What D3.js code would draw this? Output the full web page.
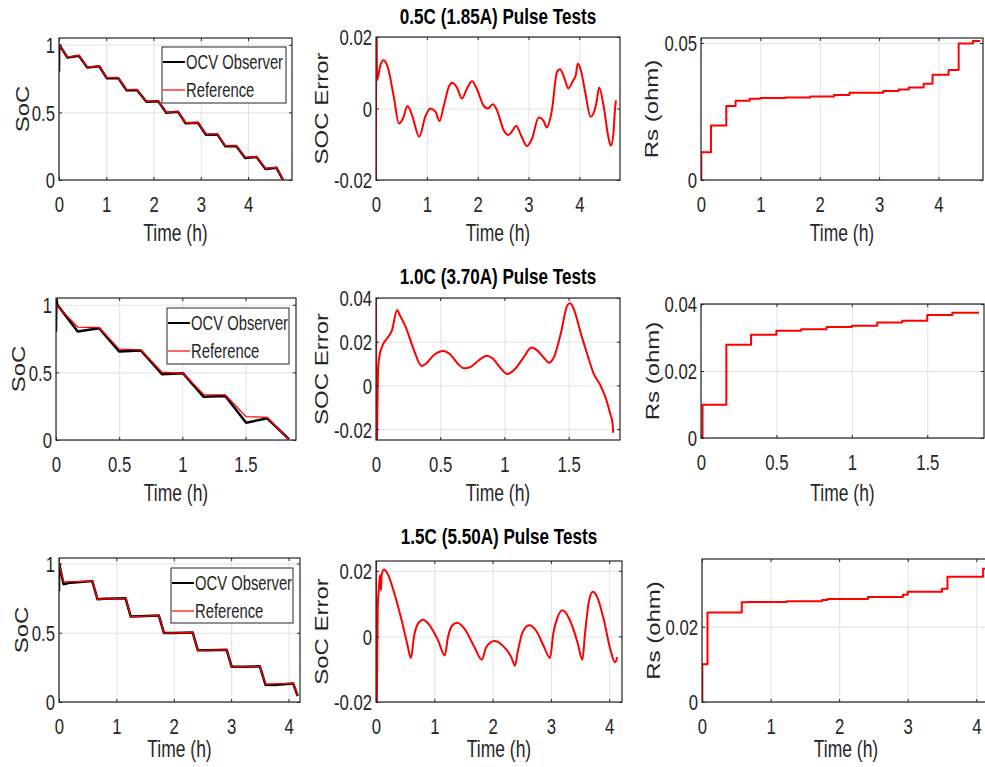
<!DOCTYPE html>
<html>
<head>
<meta charset="utf-8">
<script src="https://cdnjs.cloudflare.com/ajax/libs/d3/7.8.5/d3.min.js"></script>
<style>
body { margin: 0; background: #fff; }
svg text { font-family: "Liberation Sans", Arial, sans-serif; fill: #262626; }
</style>
</head>
<body>
<div id="chart"></div>
<script>
// ---- 0.5C (1.85A) ----
const t05Ref = [0, 0.18, 0.42, 0.60, 0.85, 1.01, 1.25, 1.43, 1.65, 1.85, 2.10, 2.27, 2.52, 2.68, 2.94, 3.11, 3.35, 3.52, 3.75, 3.94, 4.18, 4.37, 4.60, 4.74];
const soc05Ref = [1.0, 0.909, 0.921, 0.835, 0.843, 0.757, 0.757, 0.668, 0.668, 0.582, 0.585, 0.501, 0.506, 0.423, 0.425, 0.339, 0.339, 0.253, 0.253, 0.167, 0.172, 0.086, 0.093, 0.0];
const t05Obs = [0, 0.004, 0.18, 0.42, 0.60, 0.85, 1.01, 1.25, 1.43, 1.65, 1.85, 2.10, 2.27, 2.52, 2.68, 2.94, 3.11, 3.35, 3.52, 3.75, 3.94, 4.18, 4.37, 4.60, 4.74];
const soc05Obs = [0.80, 1.0, 0.905, 0.919, 0.831, 0.841, 0.753, 0.755, 0.664, 0.666, 0.578, 0.583, 0.497, 0.504, 0.419, 0.423, 0.335, 0.337, 0.249, 0.251, 0.163, 0.170, 0.082, 0.091, 0.0];
const t05Err = [0, 0.003, 0.02, 0.085, 0.15, 0.23, 0.35, 0.45, 0.53, 0.62, 0.71, 0.85, 0.97, 1.07, 1.17, 1.25, 1.33, 1.43, 1.50, 1.59, 1.69, 1.79, 1.89, 1.98, 2.12, 2.20, 2.30, 2.38, 2.51, 2.61, 2.67, 2.76, 2.85, 2.97, 3.07, 3.20, 3.29, 3.36, 3.46, 3.56, 3.62, 3.72, 3.78, 3.88, 3.93, 3.97, 4.03, 4.12, 4.22, 4.30, 4.34, 4.39, 4.48, 4.57, 4.62, 4.67, 4.70, 4.72];
const err05 = [-0.05, 0.05, 0.0079, 0.0121, 0.0135, 0.0116, 0.0033, -0.0042, -0.0028, 0.0007, -0.0019, -0.0079, -0.0023, 0.0, -0.0009, -0.0035, 0.0005, 0.006, 0.0072, 0.0059, 0.0028, 0.0056, 0.0076, 0.0056, 0.0007, 0.0, 0.0012, -0.0005, -0.006, -0.0074, -0.0065, -0.0049, -0.0074, -0.0105, -0.0084, -0.0025, -0.0033, -0.0053, -0.0005, 0.0102, 0.011, 0.0079, 0.0056, 0.0079, 0.0093, 0.0126, 0.0107, 0.0042, -0.0023, -0.0005, 0.0019, 0.0059, 0.0005, -0.0079, -0.0104, -0.007, -0.0005, 0.0023];
const t05Rs = [0, 0.005, 0.168, 0.426, 0.583, 0.82, 1.0, 1.42, 1.84, 2.24, 2.50, 3.07, 3.33, 3.50, 3.75, 3.90, 4.17, 4.34, 4.58, 4.70];
const rs05 = [0, 0.0101, 0.0199, 0.0270, 0.0289, 0.0296, 0.0299, 0.0301, 0.0305, 0.031, 0.0318, 0.0325, 0.033, 0.0337, 0.0351, 0.0384, 0.0401, 0.0498, 0.0507, 0.0507];

// ---- 1.0C (3.70A) ----
const t10Ref = [0, 0.172, 0.341, 0.5, 0.672, 0.839, 1.005, 1.169, 1.341, 1.505, 1.672, 1.844];
const soc10Ref = [1.0, 0.835, 0.832, 0.672, 0.667, 0.501, 0.494, 0.336, 0.333, 0.173, 0.168, 0.0];
const t10Obs = [0, 0.003, 0.01, 0.172, 0.341, 0.5, 0.672, 0.839, 1.005, 1.169, 1.341, 1.505, 1.672, 1.844];
const soc10Obs = [0.80, 1.05, 1.0, 0.802, 0.827, 0.654, 0.662, 0.486, 0.494, 0.319, 0.326, 0.128, 0.16, 0.007];
const t10Err = [0, 0.003, 0.016, 0.026, 0.047, 0.086, 0.125, 0.164, 0.185, 0.23, 0.295, 0.355, 0.386, 0.451, 0.524, 0.582, 0.647, 0.686, 0.738, 0.803, 0.863, 0.907, 0.972, 1.023, 1.075, 1.153, 1.21, 1.257, 1.31, 1.348, 1.387, 1.439, 1.491, 1.512, 1.543, 1.595, 1.647, 1.694, 1.746, 1.79, 1.823, 1.842, 1.847];
const err10 = [0.06, -0.04, 0.007, 0.0131, 0.0177, 0.0215, 0.0253, 0.0345, 0.0322, 0.0269, 0.0162, 0.0089, 0.0098, 0.0139, 0.0157, 0.0139, 0.0093, 0.0078, 0.0085, 0.0116, 0.0136, 0.0124, 0.0078, 0.0052, 0.007, 0.0131, 0.0173, 0.0159, 0.0124, 0.0104, 0.0131, 0.0238, 0.0368, 0.0376, 0.0345, 0.0238, 0.0139, 0.0055, 0.0002, -0.006, -0.0128, -0.0174, -0.0217];
const t10Rs = [0, 0.01, 0.168, 0.332, 0.5, 0.664, 0.832, 1.0, 1.168, 1.334, 1.5, 1.666, 1.843];
const rs10 = [0, 0.0099, 0.0278, 0.0308, 0.032, 0.0325, 0.0331, 0.0335, 0.0345, 0.035, 0.0367, 0.0374, 0.0374];

// ---- 1.5C (5.50A) ----
const t15Ref = [0, 0.08, 0.58, 0.67, 1.16, 1.25, 1.74, 1.83, 2.33, 2.42, 2.92, 3.01, 3.50, 3.60, 4.08, 4.16];
const soc15Ref = [1.0, 0.868, 0.873, 0.742, 0.749, 0.617, 0.624, 0.498, 0.502, 0.373, 0.378, 0.254, 0.258, 0.129, 0.134, 0.043];
const t15Obs = [0, 0.003, 0.08, 0.2, 0.58, 0.67, 0.8, 1.16, 1.25, 1.4, 1.74, 1.83, 2.0, 2.33, 2.42, 2.6, 2.92, 3.01, 3.2, 3.50, 3.60, 3.75, 4.08, 4.16];
const soc15Obs = [0.80, 1.0, 0.85, 0.862, 0.873, 0.742, 0.745, 0.749, 0.617, 0.62, 0.624, 0.498, 0.499, 0.502, 0.373, 0.374, 0.378, 0.254, 0.254, 0.258, 0.124, 0.122, 0.134, 0.043];
const t15Err = [0, 0.004, 0.03, 0.05, 0.07, 0.085, 0.097, 0.137, 0.21, 0.325, 0.44, 0.535, 0.6, 0.65, 0.72, 0.81, 0.92, 1.065, 1.18, 1.235, 1.31, 1.395, 1.52, 1.69, 1.815, 1.89, 2.03, 2.175, 2.32, 2.385, 2.43, 2.515, 2.63, 2.745, 2.885, 2.985, 3.04, 3.115, 3.2, 3.315, 3.455, 3.54, 3.585, 3.655, 3.72, 3.795, 3.91, 4.025, 4.1, 4.14];
const err15 = [0.05, -0.04, 0.009, 0.0146, 0.0187, 0.0141, 0.0187, 0.0204, 0.0187, 0.0125, 0.0049, -0.0022, -0.0066, -0.0002, 0.0039, 0.0051, 0.0034, -0.0012, -0.0058, -0.0002, 0.0034, 0.0042, 0.0023, -0.0033, -0.0071, -0.0033, -0.0014, -0.0028, -0.0063, -0.0089, -0.0048, 0.0013, 0.0034, 0.0018, -0.0033, -0.0066, 0.0008, 0.0059, 0.008, 0.0054, -0.0017, -0.0071, 0.0008, 0.011, 0.0136, 0.012, 0.0049, -0.0043, -0.0079, -0.0063];
const t15Rs = [0, 0.005, 0.08, 0.58, 0.67, 1.24, 1.75, 1.83, 2.42, 2.93, 3.0, 3.5, 3.58, 4.1, 4.2];
const rs15 = [0, 0.01, 0.0238, 0.0265, 0.0266, 0.0268, 0.0271, 0.0274, 0.0279, 0.0285, 0.0293, 0.0301, 0.0333, 0.0354, 0.0354];

// tick values / labels
const hourTicks = [0, 1, 2, 3, 4];
const halfHourTicks = [0, 0.5, 1, 1.5];
const socTicks = [0, 0.5, 1];
const legendLabels = ["OCV Observer", "Reference"];
const titles = ["0.5C (1.85A) Pulse Tests", "1.0C (3.70A) Pulse Tests", "1.5C (5.50A) Pulse Tests"];

const W = 985, H = 767;
const SX = 0.76; // the original figure was squeezed horizontally
const RED = "#ff0000";

const svg = d3.select("#chart").append("svg")
    .attr("width", W)
    .attr("height", H);

const stepC = d3.curveStepAfter, smoothC = d3.curveMonotoneX, linC = d3.curveLinear;

function socSeries(tO, vO, tR, vR) {
    return [
        {t: tO, v: vO, color: "#000", width: 2.5, curve: linC},
        {t: tR, v: vR, color: RED, width: 1.3, curve: linC}
    ];
}

const panels = [
  // row 1
  {box: [59, 38, 292, 180], xdom: [0, 4.93], ydom: [0, 1.05], xt: hourTicks, yt: socTicks,
   ylab: "SoC", ylx: 29, xlaby: 241, series: socSeries(t05Obs, soc05Obs, t05Ref, soc05Ref), legend: [162, 47, 124, 56]},
  {box: [376, 37, 620, 180], xdom: [0, 4.8], ydom: [-0.02, 0.02], xt: hourTicks, yt: [-0.02, 0, 0.02],
   ylab: "SOC Error", ylx: 328, xlaby: 241, series: [{t: t05Err, v: err05, color: RED, width: 2, curve: smoothC}], title: [titles[0], 24]},
  {box: [701, 38, 983, 180], xdom: [0, 4.75], ydom: [0, 0.0518], xt: hourTicks, yt: [0, 0.05],
   ylab: "Rs (ohm)", ylx: 658, xlaby: 241, series: [{t: t05Rs, v: rs05, color: RED, width: 2, curve: stepC}]},
  // row 2
  {box: [56, 298, 296, 440], xdom: [0, 1.9], ydom: [0, 1.05], xt: halfHourTicks, yt: socTicks,
   ylab: "SoC", ylx: 25, xlaby: 501, series: socSeries(t10Obs, soc10Obs, t10Ref, soc10Ref), legend: [167, 308, 122, 56]},
  {box: [376, 298, 620, 440], xdom: [0, 1.9], ydom: [-0.025, 0.04], xt: halfHourTicks, yt: [-0.02, 0, 0.02, 0.04],
   ylab: "SOC Error", ylx: 328, xlaby: 501, series: [{t: t10Err, v: err10, color: RED, width: 2, curve: smoothC}], title: [titles[1], 284]},
  {box: [701, 304, 984, 438], xdom: [0, 1.876], ydom: [0, 0.04], xt: halfHourTicks, yt: [0, 0.02, 0.04],
   ylab: "Rs (ohm)", ylx: 659, xlaby: 501, series: [{t: t10Rs, v: rs10, color: RED, width: 2, curve: stepC}]},
  // row 3
  {box: [59, 558, 300, 702], xdom: [0, 4.2], ydom: [0, 1.04], xt: hourTicks, yt: socTicks,
   ylab: "SoC", ylx: 28, xlaby: 757, series: socSeries(t15Obs, soc15Obs, t15Ref, soc15Ref), legend: [171, 568, 122, 55]},
  {box: [376, 561, 622, 702], xdom: [0, 4.22], ydom: [-0.02, 0.023], xt: hourTicks, yt: [-0.02, 0, 0.02],
   ylab: "SoC Error", ylx: 328, xlaby: 757, series: [{t: t15Err, v: err15, color: RED, width: 2, curve: smoothC}], title: [titles[2], 544]},
  {box: [702, 559, 990, 702], xdom: [0, 4.2], ydom: [0, 0.038], xt: hourTicks, yt: [0, 0.02],
   ylab: "Rs (ohm)", ylx: 660, xlaby: 757, series: [{t: t15Rs, v: rs15, color: RED, width: 2, curve: stepC}]}
];

function drawPanel(p, idx) {
    const [x0, y0, x1, y1] = p.box;
    const x = d3.scaleLinear().domain(p.xdom).range([x0, x1]);
    const y = d3.scaleLinear().domain(p.ydom).range([y1, y0]);
    const g = svg.append("g");

    // grid
    g.append("g").attr("transform", `translate(0,${y1})`)
        .call(d3.axisBottom(x).tickValues(p.xt).tickSize(-(y1 - y0)).tickFormat(""))
        .call(a => a.select(".domain").remove())
        .selectAll("line").attr("stroke", "#e2e2e2");
    g.append("g").attr("transform", `translate(${x0},0)`)
        .call(d3.axisLeft(y).tickValues(p.yt).tickSize(-(x1 - x0)).tickFormat(""))
        .call(a => a.select(".domain").remove())
        .selectAll("line").attr("stroke", "#e2e2e2");

    // clip for off-scale parts
    const cid = "clip" + idx;
    svg.append("clipPath").attr("id", cid).append("rect")
        .attr("x", x0).attr("y", y0).attr("width", x1 - x0).attr("height", y1 - y0);

    p.series.forEach(s => {
        const line = d3.line()
            .x((d, i) => x(s.t[i]))
            .y(d => y(d))
            .curve(s.curve);
        g.append("path")
            .datum(s.v)
            .attr("clip-path", `url(#${cid})`)
            .attr("d", line)
            .attr("fill", "none")
            .attr("stroke", s.color)
            .attr("stroke-width", s.width)
            .attr("stroke-linejoin", "round");
    });

    // box
    g.append("rect")
        .attr("x", x0).attr("y", y0).attr("width", x1 - x0).attr("height", y1 - y0)
        .attr("fill", "none").attr("stroke", "#262626").attr("stroke-width", 1.2);

    // ticks (inward, all four sides)
    const fmt = d => String(d);
    const xb = g.append("g").attr("transform", `translate(0,${y1})`).attr("color", "#262626")
        .call(d3.axisBottom(x).tickValues(p.xt).tickSize(-3).tickFormat(fmt));
    xb.select(".domain").remove();
    xb.selectAll("text")
        .attr("y", null).attr("dy", null)
        .attr("transform", `translate(0,32) scale(${SX},1)`)
        .style("font-size", "22px");

    const yl = g.append("g").attr("transform", `translate(${x0},0)`).attr("color", "#262626")
        .call(d3.axisLeft(y).tickValues(p.yt).tickSize(-3).tickFormat(fmt));
    yl.select(".domain").remove();
    yl.selectAll("text")
        .attr("x", null).attr("dy", "0.36em")
        .attr("transform", `translate(-4,0) scale(${SX},1)`)
        .style("font-size", "22px");

    g.append("g").attr("transform", `translate(0,${y0})`).attr("color", "#262626")
        .call(d3.axisTop(x).tickValues(p.xt).tickSize(-3).tickFormat(""))
        .select(".domain").remove();
    g.append("g").attr("transform", `translate(${x1},0)`).attr("color", "#262626")
        .call(d3.axisRight(y).tickValues(p.yt).tickSize(-3).tickFormat(""))
        .select(".domain").remove();

    // axis labels
    g.append("text")
        .attr("transform", `translate(${(x0 + x1) / 2},${p.xlaby}) scale(${SX},1)`)
        .attr("text-anchor", "middle")
        .style("font-size", "23px")
        .text("Time (h)");
    g.append("text")
        .attr("transform", `translate(${p.ylx},${(y0 + y1) / 2}) rotate(-90) scale(1,${SX})`)
        .attr("text-anchor", "middle")
        .style("font-size", "24px")
        .text(p.ylab);

    if (p.title) {
        g.append("text")
            .attr("transform", `translate(${(x0 + x1) / 2},${p.title[1]}) scale(${SX},1)`)
            .attr("text-anchor", "middle")
            .style("font-size", "22.5px")
            .style("font-weight", "bold")
            .style("fill", "#000")
            .text(p.title[0]);
    }

    if (p.legend) {
        const [lx, ly, lw, lh] = p.legend;
        const lg = g.append("g");
        lg.append("rect")
            .attr("x", lx).attr("y", ly).attr("width", lw).attr("height", lh)
            .attr("fill", "#fff").attr("stroke", "#262626").attr("stroke-width", 1);
        const cols = ["#000", RED], widths = [2, 1.2];
        legendLabels.forEach((lab, i) => {
            const cy = ly + 15 + i * 28;
            lg.append("line")
                .attr("x1", lx + 1).attr("x2", lx + 23)
                .attr("y1", cy).attr("y2", cy)
                .attr("stroke", cols[i]).attr("stroke-width", widths[i]);
            lg.append("text")
                .attr("transform", `translate(${lx + 24},${cy}) scale(${SX},1)`)
                .attr("dy", "0.36em")
                .style("font-size", "19.5px")
                .text(lab);
        });
    }
}

panels.forEach(drawPanel);
</script>
</body>
</html>
